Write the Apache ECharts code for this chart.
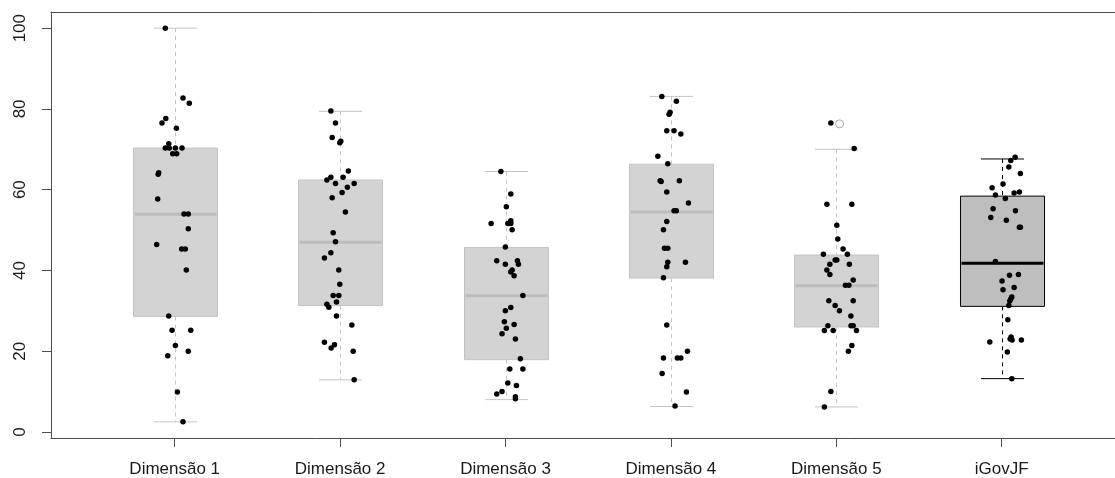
<!DOCTYPE html>
<html>
<head>
    <meta charset="utf-8">
    <style type="text/css">
        html,body { margin: 0px; padding: 0px; height: 100%; background: #ffffff; }
        #canvas1 { width: 1115px; height: 478px; }
    </style>
    <script src="https://cdn.jsdelivr.net/npm/echarts@6/dist/echarts.min.js"></script>
</head>
<body>
<div id="canvas1"></div>
<script type="text/javascript">
// categorias e estatisticas das caixas: [min, Q1, mediana, Q3, max]
var categories = ['Dimensão 1', 'Dimensão 2', 'Dimensão 3', 'Dimensão 4', 'Dimensão 5', 'iGovJF'];
var yTicks = [0, 20, 40, 60, 80, 100];
var boxStats = [
    [2.5, 28.6, 53.9, 70.3, 100],
    [12.9, 31.3, 47.0, 62.4, 79.4],
    [8.0, 17.9, 33.7, 45.7, 64.5],
    [6.3, 38.1, 54.5, 66.3, 83.1],
    [6.2, 26.0, 36.2, 43.8, 70.0],
    [13.2, 31.1, 41.8, 58.4, 67.6]
];
var outliers = [[5.02, 76.3]];

// pontos (valores) e deslocamento horizontal (jitter)
var vals1 = [100, 82.7, 81.4, 77.6, 76.5, 75.2, 71.4, 70.3, 70.3, 70.3, 70.3, 68.9, 68.9, 63.8, 64.2, 57.7, 54.0, 54.0, 50.3, 46.4, 45.3, 45.3, 40.1, 28.7, 25.2, 25.2, 21.4, 18.9, 20.0, 9.9, 2.5];
var jit1 = [-0.057, 0.050, 0.088, -0.054, -0.077, 0.010, -0.036, -0.057, -0.033, 0.004, 0.044, -0.012, 0.012, -0.100, -0.097, -0.103, 0.056, 0.082, 0.082, -0.109, 0.042, 0.064, 0.070, -0.036, -0.016, 0.097, 0.004, -0.042, 0.082, 0.016, 0.050];
var vals2 = [79.5, 76.5, 72.9, 71.6, 72.0, 64.6, 63.1, 63.1, 62.4, 61.5, 61.5, 60.6, 59.3, 58.0, 54.5, 49.3, 47.1, 44.4, 43.1, 40.1, 36.6, 33.8, 33.8, 32.2, 31.6, 30.9, 28.7, 26.5, 22.2, 21.6, 20.8, 20.0, 12.9];
var jit2 = [-0.056, -0.028, -0.048, -0.002, 0.004, 0.050, -0.056, 0.018, -0.080, -0.028, 0.085, 0.044, 0.012, -0.048, 0.032, -0.042, -0.028, -0.056, -0.095, -0.008, -0.002, -0.042, -0.008, -0.022, -0.080, -0.068, -0.022, 0.071, -0.095, -0.034, -0.054, 0.079, 0.085];
var vals3 = [64.5, 58.9, 55.8, 51.6, 51.6, 52.3, 51.6, 50.1, 45.8, 42.4, 41.5, 42.4, 41.5, 40.1, 39.6, 38.7, 33.8, 30.8, 30.0, 27.3, 26.6, 25.7, 24.3, 23.0, 18.1, 15.6, 15.6, 12.1, 11.5, 10.0, 9.4, 8.7, 8.2];
var jit3 = [-0.028, 0.032, 0.005, -0.087, 0.014, 0.032, 0.032, 0.040, -0.001, -0.053, -0.001, 0.072, 0.078, 0.040, 0.032, 0.052, 0.105, 0.032, -0.001, -0.007, 0.052, 0.005, -0.021, 0.060, 0.090, 0.026, 0.105, 0.014, 0.066, -0.021, -0.053, 0.060, 0.060];
var vals4 = [83.1, 81.9, 79.2, 78.7, 74.6, 74.6, 73.8, 68.3, 66.4, 62.2, 62.0, 62.2, 59.4, 56.7, 54.8, 54.8, 52.1, 50.1, 45.5, 45.5, 42.0, 42.0, 40.9, 38.2, 26.5, 20.0, 18.3, 18.3, 18.3, 14.5, 9.9, 6.4];
var jit4 = [-0.055, 0.033, -0.005, -0.011, -0.025, 0.019, 0.060, -0.079, -0.019, -0.065, -0.059, 0.051, -0.025, 0.106, 0.019, 0.033, -0.025, -0.045, -0.039, -0.019, -0.019, 0.088, -0.025, -0.045, -0.025, 0.100, -0.045, 0.039, 0.060, -0.053, 0.094, 0.025];
var vals5 = [76.5, 70.2, 56.4, 56.4, 51.2, 47.8, 45.3, 44.0, 44.0, 42.6, 42.6, 41.5, 41.5, 40.1, 39.0, 37.6, 36.3, 36.3, 32.5, 32.5, 31.3, 30.0, 28.7, 26.3, 26.3, 26.3, 25.1, 25.1, 25.1, 21.4, 20.0, 10.0, 6.2];
var jit5 = [-0.033, 0.108, -0.057, 0.094, 0.003, 0.009, 0.041, -0.078, 0.067, -0.007, 0.003, -0.039, 0.079, -0.057, -0.039, 0.102, 0.055, 0.076, -0.045, 0.102, -0.007, 0.019, 0.088, -0.051, 0.089, 0.102, -0.072, -0.019, 0.122, 0.094, 0.073, -0.033, -0.072];
var vals6 = [68.0, 67.2, 65.6, 64.0, 61.4, 60.5, 59.2, 59.4, 58.7, 57.8, 55.3, 54.8, 53.1, 52.4, 50.7, 50.7, 42.2, 38.8, 39.0, 37.4, 35.8, 35.2, 33.4, 32.9, 32.4, 31.3, 27.8, 23.5, 22.8, 23.0, 22.3, 22.8, 19.8, 13.2];
var jit6 = [0.081, 0.055, 0.043, 0.113, 0.008, -0.058, 0.075, 0.107, -0.038, 0.022, -0.052, 0.083, -0.066, 0.028, 0.107, 0.113, -0.038, 0.047, 0.101, 0.002, 0.075, 0.008, 0.061, 0.055, 0.049, 0.043, 0.037, 0.057, 0.063, 0.051, -0.072, 0.119, 0.034, 0.061];

var allVals = [vals1, vals2, vals3, vals4, vals5, vals6];
var allJit = [jit1, jit2, jit3, jit4, jit5, jit6];

var boxData = boxStats.map(function (s, i) { return [i + 1].concat(s); });
var pointData = [];
allVals.forEach(function (vs, i) {
    vs.forEach(function (v, k) { pointData.push([i + 1 + allJit[i][k], v]); });
});

function renderBox(params, api) {
    var x = api.value(0);
    var dark = params.dataIndex === 5;
    var lineCol = dark ? '#000000' : '#c4c4c4';
    var fillCol = dark ? '#bebebe' : '#d3d3d3';
    var medCol = dark ? '#000000' : '#bdbdbd';
    var halfW = api.size([0.254, 0])[0];
    var capW = api.size([0.13, 0])[0];
    var pLo = api.coord([x, api.value(1)]);
    var pQ1 = api.coord([x, api.value(2)]);
    var pMed = api.coord([x, api.value(3)]);
    var pQ3 = api.coord([x, api.value(4)]);
    var pHi = api.coord([x, api.value(5)]);
    var cx = Math.round(pMed[0]) + 0.5;
    var dash = { stroke: lineCol, lineWidth: 1, lineDash: [4, 4] };
    var solid = { stroke: lineCol, lineWidth: 1 };
    return {
        type: 'group',
        children: [
            { type: 'line', shape: { x1: cx, y1: pHi[1], x2: cx, y2: pQ3[1] }, style: dash },
            { type: 'line', shape: { x1: cx, y1: pQ1[1], x2: cx, y2: pLo[1] }, style: dash },
            { type: 'line', shape: { x1: cx - capW, y1: pHi[1], x2: cx + capW, y2: pHi[1] }, style: solid },
            { type: 'line', shape: { x1: cx - capW, y1: pLo[1], x2: cx + capW, y2: pLo[1] }, style: solid },
            { type: 'rect', shape: { x: cx - halfW, y: pQ3[1], width: halfW * 2, height: pQ1[1] - pQ3[1] },
              style: { fill: fillCol, stroke: lineCol, lineWidth: 1 } },
            { type: 'line', shape: { x1: cx - halfW + 1, y1: pMed[1], x2: cx + halfW - 1, y2: pMed[1] },
              style: { stroke: medCol, lineWidth: 3 } }
        ]
    };
}

var frameLine = { show: true, onZero: false, lineStyle: { color: '#4d4d4d', width: 1 } };

var myChart1 = echarts.init(document.getElementById('canvas1'));
var option1 = {
    animation: false,
    grid: { left: 51, right: 0, top: 12, bottom: 40 },
    xAxis: [{
        type: 'value', min: 0.252, max: 6.685,
        splitLine: { show: false },
        axisLine: frameLine,
        axisTick: { show: true, length: 9, lineStyle: { color: '#4d4d4d' }, customValues: [1, 2, 3, 4, 5, 6] },
        axisLabel: {
            customValues: [1, 2, 3, 4, 5, 6], margin: 23,
            fontFamily: 'Liberation Sans', fontSize: 17, color: '#1a1a1a',
            formatter: function (v) { return categories[Math.round(v) - 1]; }
        }
    }, {
        // linha superior da moldura
        type: 'value', position: 'top', min: 0.252, max: 6.685,
        splitLine: { show: false },
        axisLine: frameLine,
        axisTick: { show: false },
        axisLabel: { show: false }
    }],
    yAxis: {
        type: 'value', min: -1.5, max: 104,
        splitLine: { show: false },
        axisLine: frameLine,
        axisTick: { show: true, length: 9, lineStyle: { color: '#4d4d4d' }, customValues: yTicks },
        axisLabel: {
            customValues: yTicks, rotate: 90, margin: 22,
            fontFamily: 'Liberation Sans', fontSize: 17, color: '#1a1a1a'
        }
    },
    series: [{
        type: 'custom',
        renderItem: renderBox,
        data: boxData,
        z: 1
    }, {
        type: 'scatter',
        data: outliers,
        symbol: 'circle',
        symbolSize: 8,
        itemStyle: { color: 'rgba(255,255,255,0)', borderColor: '#a8a8a8', borderWidth: 1, opacity: 1 },
        z: 2
    }, {
        type: 'scatter',
        data: pointData,
        symbolSize: 5.5,
        itemStyle: { color: '#000000', opacity: 1 },
        z: 3
    }]
};
myChart1.setOption(option1);
</script>
</body>
</html>
